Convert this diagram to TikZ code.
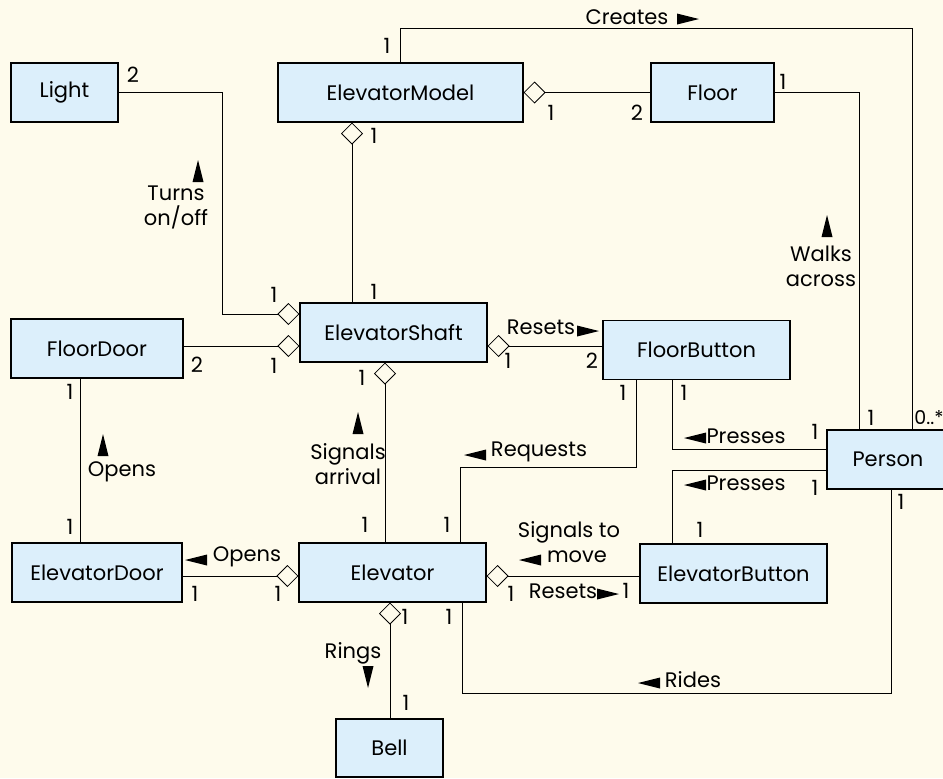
\documentclass[tikz,border=0pt]{standalone}
\usepackage{fontspec}
\setmainfont{Poppins}
\usetikzlibrary{arrows.meta,calc}
\definecolor{myCream}{HTML}{FEFBEC}
\definecolor{myBlue}{HTML}{DCEFFB}

\begin{document}
\begin{tikzpicture}[x=0.5pt, y=-0.5pt,
  cls/.style={draw, fill=myBlue, line width=0.6pt, minimum height=29.5pt, inner sep=0pt, font=\fontsize{10.5}{12}\selectfont},
  lbl/.style={inner sep=0pt, align=center, font=\fontsize{10.5}{12.5}\selectfont},
  agg/.style={{Diamond[open, length=11pt, width=11pt]}-},
  tri/.pic={\fill (-11,-5.5) -- (11,0) -- (-11,5.5) -- cycle;}]
\fill[myCream] (0,0) rectangle (943,778);
\useasboundingbox (0,0) rectangle (943,778);


\node[cls, minimum width=53.5pt] (light) at (64.5,92.5) {Light};
\node[cls, minimum width=122.5pt] (model) at (400.5,92.5) {ElevatorModel};
\node[cls, minimum width=61.5pt] (floor) at (712.5,92.5) {Floor};
\node[cls, minimum width=86pt] (floordoor) at (97,348.5) {FloorDoor};
\node[cls, minimum width=93.5pt] (shaft) at (393.5,332.5) {ElevatorShaft};
\node[cls, minimum width=93.5pt] (fbutton) at (696.5,350) {FloorButton};
\node[cls, minimum width=61pt] (person) at (888,459.5) {Person};
\node[cls, minimum width=85pt] (edoor) at (97,572.5) {ElevatorDoor};
\node[cls, minimum width=93.5pt] (elevator) at (392.5,572.5) {Elevator};
\node[cls, minimum width=93.5pt] (ebutton) at (733.5,573.5) {ElevatorButton};
\node[cls, minimum width=53.5pt, minimum height=29pt] (bell) at (389.5,748) {Bell};


\draw (model.north) -- ++(0,-34) -| ($(person.north)+(24,0)$);
\draw[agg] (model.east) -- (floor.west);
\draw (floor.east) -| ($(person.north)+(-29,0)$);
\draw[agg] ($(shaft.west)+(0,-18.5)$) -| ($(light.east)+(104,0)$) -- (light.east);
\draw[agg] ($(model.south)+(-48.5,0)$) coordinate (t) -- (t |- shaft.north);
\draw[agg] ($(shaft.west)+(0,13.5)$) coordinate (t) -- (t -| floordoor.east);
\draw[agg] ($(shaft.east)+(0,13.5)$) coordinate (t) -- (t -| fbutton.west);
\draw[agg] ($(shaft.south)+(-8.5,0)$) coordinate (t) -- (t |- elevator.north);
\draw ($(floordoor.south)+(-17,0)$) coordinate (t) -- (t |- edoor.north);
\draw ($(fbutton.south)+(-60.5,0)$) |- ($(elevator.north)+(67.5,-75)$) -- ($(elevator.north)+(67.5,0)$);
\draw ($(fbutton.south)+(-24.5,0)$) |- ($(person.west)+(0,-10.5)$);
\draw ($(person.west)+(0,10.5)$) -| ($(ebutton.north)+(-61.5,0)$);
\draw[agg] ($(elevator.west)+(0,3.5)$) coordinate (t) -- (t -| edoor.east);
\draw[agg] ($(elevator.east)+(0,3.5)$) coordinate (t) -- (t -| ebutton.west);
\draw[agg] ($(elevator.south)+(-2.5,0)$) coordinate (t) -- (t |- bell.north);
\draw ($(elevator.south)+(69.5,0)$) |- ($(person.south)+(3,204)$) -- ($(person.south)+(3,0)$);


\node[lbl] (creates) at (627,17) {Creates};
\pic at (688,19) {tri};
\node[lbl] (turns) at (176,207) {Turns\\on/off};
\pic[rotate=90] at (198,171) {tri};
\node[lbl] (arrival) at (348,464) {Signals\\arrival};
\pic[rotate=90] at (358,423) {tri};
\node[lbl] (opens1) at (122,472) {Opens};
\pic[rotate=90] at (103,445) {tri};
\node[lbl] (walks) at (821,266) {Walks\\across};
\pic[rotate=90] at (827,226) {tri};
\node[lbl] (resets1) at (541,327) {Resets};
\pic at (588,331) {tri};
\node[lbl] (requests) at (539,452) {Requests};
\pic[rotate=180] at (475,455) {tri};
\node[lbl] (presses1) at (746,436) {Presses};
\pic[rotate=180] at (695,438) {tri};
\node[lbl] (presses2) at (746,483) {Presses};
\pic[rotate=180] at (695,485) {tri};
\node[lbl] (opens2) at (247,557) {Opens};
\pic[rotate=180] at (196,560) {tri};
\node[lbl] (move) at (569,542) {Signals to\\\hspace*{8pt}move};
\pic[rotate=180] at (530,560) {tri};
\node[lbl] (resets2) at (563,591) {Resets};
\pic at (608,594) {tri};
\node[lbl] (rings) at (353,653) {Rings};
\pic[rotate=-90] at (368,677) {tri};
\node[lbl] (rides) at (693,680) {Rides};
\pic[rotate=180] at (649,683) {tri};


\node[lbl] (m1) at (387,46) {1};
\node[lbl] (m2) at (133,75) {2};
\node[lbl] (m3) at (551,113) {1};
\node[lbl] (m4) at (637,113) {2};
\node[lbl] (m5) at (783,82) {1};
\node[lbl] (m6) at (374,136) {1};
\node[lbl] (m7) at (374,292) {1};
\node[lbl] (m8) at (274,295) {1};
\node[lbl] (m9) at (197,365) {2};
\node[lbl] (m10) at (274,366) {1};
\node[lbl] (m11) at (362,378) {1};
\node[lbl] (m12) at (508,361) {1};
\node[lbl] (m13) at (592,361) {2};
\node[lbl] (m14) at (70,392) {1};
\node[lbl] (m15) at (70,527) {1};
\node[lbl] (m16) at (623,393) {1};
\node[lbl] (m17) at (684,393) {1};
\node[lbl] (m18) at (365,525) {1};
\node[lbl] (m19) at (447,525) {1};
\node[lbl] (m20) at (815,432) {1};
\node[lbl] (m21) at (815,488) {1};
\node[lbl] (m22) at (700,530) {1};
\node[lbl] (m23) at (871,418) {1};
\node[lbl, anchor=west, font=\fontsize{9.5}{11}\selectfont] (m24) at (914,418) {0..*};
\node[lbl] (m25) at (901,502) {1};
\node[lbl] (m26) at (195,594) {1};
\node[lbl] (m27) at (278,594) {1};
\node[lbl] (m28) at (511,594) {1};
\node[lbl] (m29) at (626,591) {1};
\node[lbl] (m30) at (405,617) {1};
\node[lbl] (m31) at (449,617) {1};
\node[lbl] (m32) at (406,703) {1};
\end{tikzpicture}
\end{document}
